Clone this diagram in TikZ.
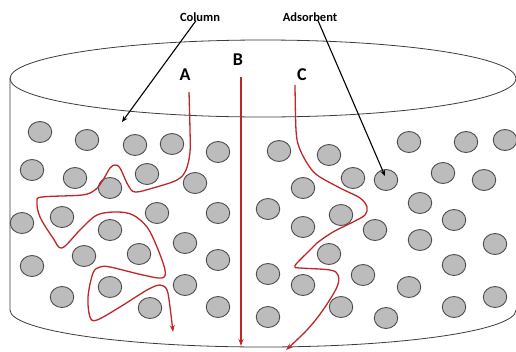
\documentclass[tikz,border=0pt]{standalone}
\usepackage{fontspec}
\setmainfont{Carlito}
\usetikzlibrary{shapes.geometric,arrows.meta}
\definecolor{redpath}{RGB}{192,38,38}
\definecolor{beadfill}{RGB}{188,188,188}
\definecolor{beadline}{RGB}{78,78,78}
\definecolor{cylline}{RGB}{60,60,60}
\begin{document}
\begin{tikzpicture}[x=1pt,y=-1pt,
  bead/.style={ellipse,draw=beadline,fill=beadfill,line width=0.9pt,minimum width=23.5pt,minimum height=21pt,inner sep=0pt},
  cyl/.style={draw=cylline,line width=0.8pt},
  lbl/.style={font=\fontsize{12.5}{14}\selectfont\bfseries,inner sep=1pt},
  big/.style={font=\fontsize{18}{20}\selectfont\bfseries,inner sep=1pt},
  ptr/.style={draw=black,line width=1.1pt,-{Stealth[length=6pt,width=5pt]}},
  flow/.style={draw=redpath,line width=1.3pt,-{Stealth[length=7pt,width=5pt]}}]
\useasboundingbox (0,0) rectangle (516,351);
% cylinder
\draw[cyl] (263,78.5) ellipse [x radius=253, y radius=38.5];
\draw[cyl] (10,78.5) -- (10,310) arc[start angle=180,end angle=0,x radius=253,y radius=37];
% beads
\foreach \n/\x/\y in {1/40/132,2/87/140,3/135/145,4/172/144,5/218/152,
  6/32/170,7/75/178,8/147/174,9/110/188,10/195/183,
  11/62/217,12/22/223,13/157/213,14/218/213,15/110/230,
  16/185/243,17/84/256,18/139/254,19/218/260,20/32/266,
  21/110/287,22/185/285,23/62/297,24/150/308,25/218/307,
  26/279/151,27/329/155,28/409/142,29/466/142,30/505/140,
  31/303/188,32/353/178,33/386/180,34/443/173,35/484/180,
  36/268/209,37/341/215,38/420/203,39/454/220,40/303/227,
  41/375/230,42/420/240,43/495/244,44/329/254,45/454/265,
  46/268/274,47/303/285,48/363/275,49/409/287,50/495/297,
  51/341/307,52/454/307,53/268/317,54/386/318}
  \node[bead] (c\n) at (\x,\y) {};
% labels
\node[lbl] (column) at (200,17) {Column};
\node[lbl] (adsorbent) at (310,17) {Adsorbent};
\node[big] (A) at (185,75) {A};
\node[big] (B) at (238,60) {B};
\node[big] (C) at (302,75) {C};
% flow paths
\draw[flow] plot[smooth,tension=0.55] coordinates {(189,92) (190,130) (190,152) (186,170) (177,180) (153,188) (135,192) (128,185) (120,168) (115,165) (110,168) (103,180) (95,190) (82,195) (42,197) (37,202) (40,217) (53,238) (62,248) (80,230) (97,215) (117,212) (133,215) (147,227) (157,247) (165,270) (162,278) (143,275) (110,267) (100,267) (93,273) (88,297) (90,317) (97,320) (120,307) (147,290) (160,285) (167,290) (170,307) (173,332)};
\coordinate (bstart) at (241,77);
\coordinate (bend) at (241,346);
\draw[flow] (bstart) -- (bend);
\draw[flow] plot[smooth,tension=0.55] coordinates {(295,85) (296,130) (299,147) (307,163) (317,175) (340,188) (360,198) (367,207) (365,215) (353,222) (333,232) (317,243) (310,250) (297,263) (295,267) (300,268) (330,270) (338,275) (337,287) (323,310) (307,330) (286,350)};
% pointers
\coordinate (coltip) at (122,122);
\coordinate (adstip) at (385,176);
\draw[ptr] ([xshift=-4pt,yshift=2pt]column.south) -- (coltip);
\draw[ptr] ([xshift=8pt,yshift=2pt]adsorbent.south) -- (adstip);
\end{tikzpicture}
\end{document}
